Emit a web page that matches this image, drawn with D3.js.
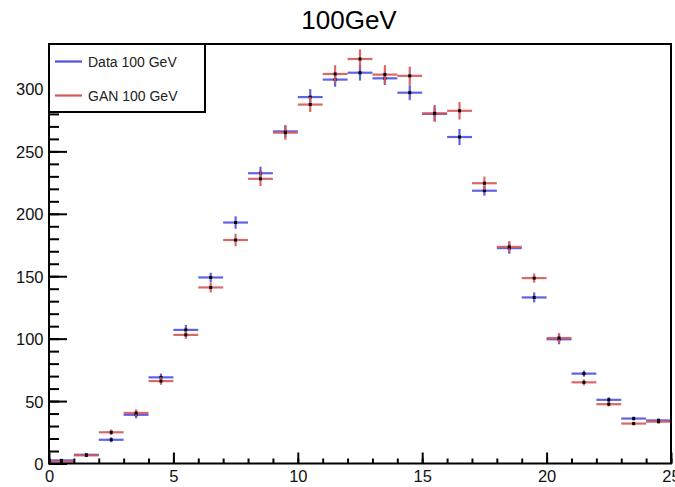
<!DOCTYPE html>
<html>
<head>
<meta charset="utf-8">
<script src="https://cdn.jsdelivr.net/npm/d3@7"></script>
<style>
  html, body { margin: 0; padding: 0; background: #fff; }
  svg { display: block; font-family: "Liberation Sans", Arial, sans-serif; }
</style>
</head>
<body>
<svg id="chart" width="675" height="487"></svg>
<script>
// Bin centres (unit-width bins from 0 to 25)
const binCenters = [0.5, 1.5, 2.5, 3.5, 4.5, 5.5, 6.5, 7.5, 8.5, 9.5, 10.5, 11.5, 12.5,
                    13.5, 14.5, 15.5, 16.5, 17.5, 18.5, 19.5, 20.5, 21.5, 22.5, 23.5, 24.5];

// Entries per bin and their errors
const dataValues = [2.5, 7, 19, 39, 69, 107, 149, 193, 232.5, 266, 293.5, 307.5, 313,
                    308.5, 297, 280, 261.5, 218.5, 172.5, 133, 99.5, 72, 51, 36, 34.5];
const dataErrors = [0.8, 1.2, 2, 2.8, 3, 4, 3.8, 5, 5.2, 5, 6.4, 5.7, 6.3,
                    5.3, 6, 6, 6.5, 4, 4.5, 4, 4, 2.4, 2, 1.6, 1.6];
const ganValues  = [1.5, 6.5, 25, 40.5, 66, 103, 141, 179, 228, 265, 287.5, 312, 324,
                    311.5, 310.5, 280.5, 282.5, 224.5, 173.5, 148.5, 100.5, 65, 47.5, 32, 33.5];
const ganErrors  = [0.6, 1.2, 2.2, 2.8, 3, 3.2, 4, 5, 5.8, 5.7, 6, 7, 7.7,
                    7.6, 7.3, 6.7, 7, 5.3, 4.7, 3.7, 4, 2.4, 1.8, 1.5, 1.5];

const xTicksMajor = [0, 5, 10, 15, 20, 25];
const yTicksMajor = [0, 50, 100, 150, 200, 250, 300];

const seriesNames = ["Data 100 GeV", "GAN 100 GeV"];
const seriesColors = ["#5050e4", "#d65858"];
const title = "100GeV";

const binWidth = 1;
const xDomain = [0, 25];
const yDomain = [0, 336];

const frame = { left: 49, right: 671, top: 44, bottom: 463.5 };

const svg = d3.select("#chart");

const x = d3.scaleLinear().domain(xDomain).range([frame.left, frame.right]);
const y = d3.scaleLinear().domain(yDomain).range([frame.bottom, frame.top]);

// Title
svg.append("text")
  .attr("x", 349).attr("y", 28.5)
  .attr("text-anchor", "middle")
  .attr("font-size", 26)
  .attr("fill", "#000")
  .text(title);

// Histograms with error crosses
const series = [
  { values: dataValues, errors: dataErrors, color: seriesColors[0] },
  { values: ganValues,  errors: ganErrors,  color: seriesColors[1] }
];

const plot = svg.append("g");
series.forEach(s => {
  const g = plot.append("g");
  const pts = binCenters.map((c, i) => ({ c, v: s.values[i], e: s.errors[i] }));
  g.selectAll("line.h").data(pts).join("line")
    .attr("class", "h")
    .attr("x1", d => x(d.c - binWidth / 2)).attr("x2", d => x(d.c + binWidth / 2))
    .attr("y1", d => y(d.v)).attr("y2", d => y(d.v))
    .attr("stroke", s.color).attr("stroke-width", 2.2).attr("stroke-opacity", 0.9);
  g.selectAll("line.v").data(pts).join("line")
    .attr("class", "v")
    .attr("x1", d => x(d.c)).attr("x2", d => x(d.c))
    .attr("y1", d => y(Math.max(0, d.v - d.e))).attr("y2", d => y(d.v + d.e))
    .attr("stroke", s.color).attr("stroke-width", 2.2).attr("stroke-opacity", 0.9);
  g.selectAll("rect.m").data(pts).join("rect")
    .attr("class", "m")
    .attr("x", d => x(d.c) - 1.5).attr("y", d => y(d.v) - 1.5)
    .attr("width", 3).attr("height", 3)
    .attr("fill", "#000");
});

// Axes: ticks drawn inward from the frame
const axisColor = "#000";
const xMinor = d3.range(xDomain[0], xDomain[1] + 1, 1);
const yMinor = d3.range(0, yDomain[1], 10);

const xAxis = d3.axisBottom(x).tickValues(xMinor)
  .tickSize(-5).tickFormat("");
const gxm = svg.append("g").attr("transform", `translate(0,${frame.bottom})`).call(xAxis);
const gxM = svg.append("g").attr("transform", `translate(0,${frame.bottom})`)
  .call(d3.axisBottom(x).tickValues(xTicksMajor).tickSize(-11).tickFormat(d3.format("d")));

const gym = svg.append("g").attr("transform", `translate(${frame.left},0)`)
  .call(d3.axisLeft(y).tickValues(yMinor).tickSize(-10).tickFormat(""));
const gyM = svg.append("g").attr("transform", `translate(${frame.left},0)`)
  .call(d3.axisLeft(y).tickValues(yTicksMajor).tickSize(-18).tickFormat(d3.format("d")));

[gxm, gxM, gym, gyM].forEach(g => {
  g.select(".domain").remove();
  g.selectAll(".tick line").attr("stroke", axisColor).attr("stroke-width", 2);
  g.selectAll(".tick text").attr("font-size", 16.5).attr("fill", "#111")
    .attr("font-family", "'Liberation Sans', Arial, sans-serif");
});
gxM.selectAll(".tick text").attr("y", 0).attr("dy", 0)
  .attr("transform", "translate(0,18)");
gyM.selectAll(".tick text").attr("x", -5.5).attr("dy", "0.36em");

// Frame
svg.append("rect")
  .attr("x", frame.left).attr("y", frame.top)
  .attr("width", frame.right - frame.left).attr("height", frame.bottom - frame.top)
  .attr("fill", "none").attr("stroke", "#000").attr("stroke-width", 2);

// Legend
const legend = svg.append("g");
legend.append("rect")
  .attr("x", frame.left).attr("y", frame.top)
  .attr("width", 205 - frame.left).attr("height", 112 - frame.top)
  .attr("fill", "#fff").attr("stroke", "#000").attr("stroke-width", 2);
const legendRows = [61.5, 95.5];
seriesNames.forEach((name, i) => {
  legend.append("line")
    .attr("x1", 55).attr("x2", 82)
    .attr("y1", legendRows[i]).attr("y2", legendRows[i])
    .attr("stroke", seriesColors[i]).attr("stroke-width", 2.2);
  legend.append("text")
    .attr("x", 88).attr("y", legendRows[i]).attr("dy", "0.36em")
    .attr("font-size", 14).attr("fill", "#222")
    .text(name);
});
</script>
</body>
</html>
